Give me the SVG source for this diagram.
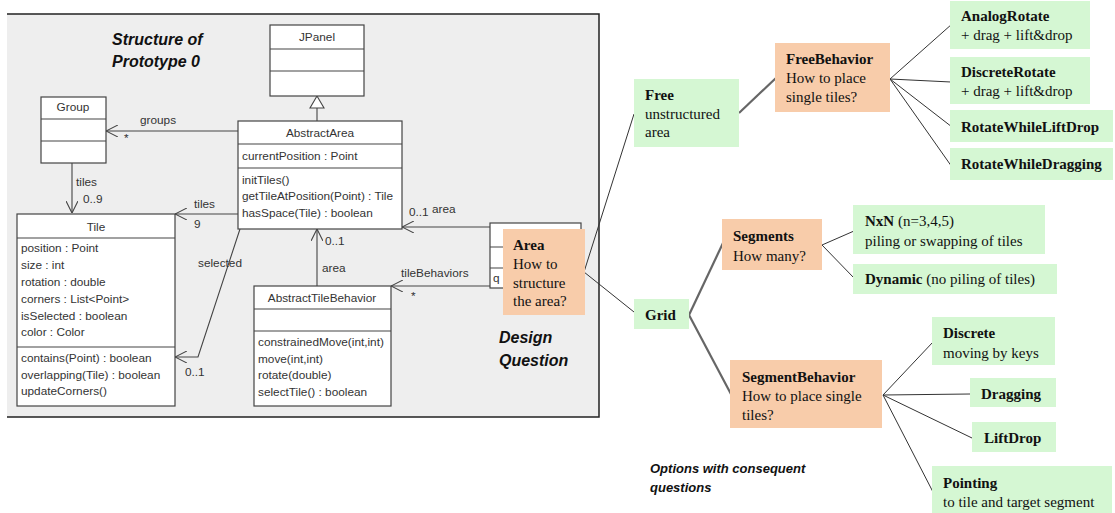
<svg xmlns="http://www.w3.org/2000/svg" width="1115" height="513" viewBox="0 0 1115 513">
<defs>
<style>
.uml{fill:#fff;stroke:#444;stroke-width:1.2}
.ut{font-family:"Liberation Sans",Arial,sans-serif;font-size:11.8px;fill:#333}
.utc{font-family:"Liberation Sans",Arial,sans-serif;font-size:11.8px;fill:#333;text-anchor:middle}
.conn{fill:none;stroke:#444;stroke-width:1.1}
.note{font-family:"Liberation Sans",Arial,sans-serif;font-weight:bold;font-style:italic;fill:#111}
.q{fill:#F8CCAA}
.o{fill:#D5F7D3}
.st{font-family:"Liberation Serif","Times New Roman",serif;font-size:15px;fill:#111}
.b{font-weight:bold}
.tl{fill:none;stroke:#333;stroke-width:1}
.tk{fill:none;stroke:#666;stroke-width:2.2}
</style>
<marker id="open" viewBox="0 0 12 12" refX="12" refY="6" markerWidth="12" markerHeight="12" markerUnits="userSpaceOnUse" orient="auto">
<path d="M0,0 L12,6 L0,12" fill="none" stroke="#444" stroke-width="1.1"/>
</marker>
</defs>
<rect width="1115" height="513" fill="#fff"/>
<!-- panel -->
<rect x="7" y="14" width="592" height="403" fill="#EEEEEE"/>
<path d="M7,14 H599 V417 H7" fill="none" stroke="#222" stroke-width="1.5"/>

<text class="note" font-size="16" x="112" y="45">Structure of</text>
<text class="note" font-size="16" x="112" y="67">Prototype 0</text>
<text class="note" font-size="16" x="499" y="343">Design</text>
<text class="note" font-size="16" x="499" y="366">Question</text>

<g id="connectors">
<path class="conn" d="M238,131 H106" marker-end="url(#open)"/>
<path class="conn" d="M72,163 V213" marker-end="url(#open)"/>
<path class="conn" d="M238,214 H175" marker-end="url(#open)"/>
<path class="conn" d="M240,229 L198,357 H175" marker-end="url(#open)"/>
<path class="conn" d="M317,286 V229" marker-end="url(#open)"/>
<path class="conn" d="M490,227 H402" marker-end="url(#open)"/>
<path class="conn" d="M490,286 H391" marker-end="url(#open)"/>
<path class="conn" d="M317,121 V108"/>
<polygon points="317,96 310,108 324,108" fill="#fff" stroke="#444" stroke-width="1.1"/>
<text class="ut" x="140" y="124">groups</text>
<text class="ut" x="124" y="142">*</text>
<text class="ut" x="76" y="186">tiles</text>
<text class="ut" x="83" y="203">0..9</text>
<text class="ut" x="194" y="208">tiles</text>
<text class="ut" x="194" y="228">9</text>
<text class="ut" x="198" y="267">selected</text>
<text class="ut" x="185" y="376">0..1</text>
<text class="ut" x="325" y="245">0..1</text>
<text class="ut" x="322" y="272">area</text>
<text class="ut" x="409" y="216">0..1</text>
<text class="ut" x="432" y="213">area</text>
<text class="ut" x="401" y="277">tileBehaviors</text>
<text class="ut" x="411" y="300">*</text>

<!-- tree connectors -->
<path class="tl" d="M634,114 L584,272 L634,312"/>
<path class="tk" d="M739,113 L776,78"/>
<path class="tk" d="M689,315 L723,243"/>
<path class="tk" d="M689,315 L732,396"/>
<path class="tl" d="M952,24 L890,79 L951,82 M890,79 L952,127 M890,79 L952,167"/>
<path class="tl" d="M854,231 L822,245 L854,278"/>
<path class="tl" d="M933,342 L883,395 L970,394 M883,395 L972,438 M883,395 L933,492"/>
</g>

<g id="JPanel">
<rect class="uml" x="270" y="25" width="94" height="71"/>
<path class="conn" d="M270,49 H364 M270,71 H364"/>
<text class="utc" x="317" y="41">JPanel</text>
</g>

<g id="AbstractArea">
<rect class="uml" x="238" y="121" width="164" height="108"/>
<path class="conn" d="M238,144 H402 M238,168 H402"/>
<text class="utc" x="320" y="137">AbstractArea</text>
<text class="ut" x="242" y="160">currentPosition : Point</text>
<text class="ut" x="242" y="184">initTiles()</text>
<text class="ut" x="242" y="200">getTileAtPosition(Point) : Tile</text>
<text class="ut" x="242" y="217">hasSpace(Tile) : boolean</text>
</g>

<g id="Group">
<rect class="uml" x="41" y="97" width="65" height="66"/>
<path class="conn" d="M41,119 H106 M41,141 H106"/>
<text class="utc" x="73" y="111">Group</text>
</g>

<g id="Tile">
<rect class="uml" x="17" y="214" width="158" height="192"/>
<path class="conn" d="M17,238 H175 M17,347 H175"/>
<text class="utc" x="96" y="231">Tile</text>
<text class="ut" x="21" y="252">position : Point</text>
<text class="ut" x="21" y="269">size : int</text>
<text class="ut" x="21" y="286">rotation : double</text>
<text class="ut" x="21" y="303">corners : List&lt;Point&gt;</text>
<text class="ut" x="21" y="320">isSelected : boolean</text>
<text class="ut" x="21" y="336">color : Color</text>
<text class="ut" x="21" y="362">contains(Point) : boolean</text>
<text class="ut" x="21" y="379">overlapping(Tile) : boolean</text>
<text class="ut" x="21" y="395">updateCorners()</text>
</g>

<g id="AbstractTileBehavior">
<rect class="uml" x="254" y="286" width="137" height="120"/>
<path class="conn" d="M254,309 H391 M254,331 H391"/>
<text class="utc" x="322" y="302">AbstractTileBehavior</text>
<text class="ut" x="258" y="346">constrainedMove(int,int)</text>
<text class="ut" x="258" y="363">move(int,int)</text>
<text class="ut" x="258" y="379">rotate(double)</text>
<text class="ut" x="258" y="396">selectTile() : boolean</text>
</g>

<g id="HiddenArea">
<rect class="uml" x="490" y="223" width="91" height="65"/>
<path class="conn" d="M490,247 H581 M490,268 H581"/>
<text class="ut" x="493" y="282">q</text>
</g>

<g id="Area">
<rect class="q" x="503" y="229" width="82" height="86"/>
<text class="st" x="513" y="250"><tspan class="b">Area</tspan><tspan x="513" dy="19">How to</tspan><tspan x="513" dy="19">structure</tspan><tspan x="513" dy="18">the area?</tspan></text>
</g>

<g id="Free">
<rect class="o" x="634" y="79" width="105" height="68"/>
<text class="st" x="645" y="100"><tspan class="b">Free</tspan><tspan x="645" dy="19">unstructured</tspan><tspan x="645" dy="18">area</tspan></text>
</g>

<g id="FreeBehavior">
<rect class="q" x="775" y="43" width="115" height="69"/>
<text class="st" x="786" y="64"><tspan class="b">FreeBehavior</tspan><tspan x="786" dy="19">How to place</tspan><tspan x="786" dy="19">single tiles?</tspan></text>
</g>

<g id="AnalogRotate">
<rect class="o" x="950" y="1" width="140" height="48"/>
<text class="st" x="961" y="21"><tspan class="b">AnalogRotate</tspan><tspan x="961" dy="19">+ drag + lift&amp;drop</tspan></text>
</g>

<g id="DiscreteRotate">
<rect class="o" x="950" y="57" width="140" height="47"/>
<text class="st" x="961" y="77"><tspan class="b">DiscreteRotate</tspan><tspan x="961" dy="19">+ drag + lift&amp;drop</tspan></text>
</g>

<g id="RotateWhileLiftDrop">
<rect class="o" x="950" y="110" width="163" height="32"/>
<text class="st b" x="961" y="132">RotateWhileLiftDrop</text>
</g>

<g id="RotateWhileDragging">
<rect class="o" x="950" y="148" width="163" height="32"/>
<text class="st b" x="961" y="169">RotateWhileDragging</text>
</g>

<g id="Grid">
<rect class="o" x="634" y="299" width="55" height="30"/>
<text class="st b" x="645" y="320">Grid</text>
</g>

<g id="Segments">
<rect class="q" x="722" y="219" width="100" height="51"/>
<text class="st" x="733" y="241"><tspan class="b">Segments</tspan><tspan x="733" dy="20">How many?</tspan></text>
</g>

<g id="NxN">
<rect class="o" x="853" y="205" width="192" height="49"/>
<text class="st" x="865" y="226"><tspan class="b">NxN</tspan> (n=3,4,5)<tspan x="865" dy="20">piling or swapping of tiles</tspan></text>
</g>

<g id="Dynamic">
<rect class="o" x="853" y="264" width="204" height="30"/>
<text class="st" x="865" y="284"><tspan class="b">Dynamic</tspan>  (no piling of tiles)</text>
</g>

<g id="SegmentBehavior">
<rect class="q" x="730" y="360" width="152" height="68"/>
<text class="st" x="742" y="382"><tspan class="b">SegmentBehavior</tspan><tspan x="742" dy="19">How to place single</tspan><tspan x="742" dy="19">tiles?</tspan></text>
</g>

<g id="Discrete">
<rect class="o" x="932" y="317" width="123" height="48"/>
<text class="st" x="943" y="338"><tspan class="b">Discrete</tspan><tspan x="943" dy="20">moving by keys</tspan></text>
</g>

<g id="Dragging">
<rect class="o" x="970" y="378" width="86" height="29"/>
<text class="st b" x="981" y="399">Dragging</text>
</g>

<g id="LiftDrop">
<rect class="o" x="972" y="422" width="84" height="30"/>
<text class="st b" x="984" y="443">LiftDrop</text>
</g>

<g id="Pointing">
<rect class="o" x="932" y="466" width="180" height="47"/>
<text class="st" x="943" y="488"><tspan class="b">Pointing</tspan><tspan x="943" dy="19">to tile  and target segment</tspan></text>
</g>

<text class="note" font-size="13" x="650" y="473">Options with consequent</text>
<text class="note" font-size="13" x="650" y="492">questions</text>
</svg>
